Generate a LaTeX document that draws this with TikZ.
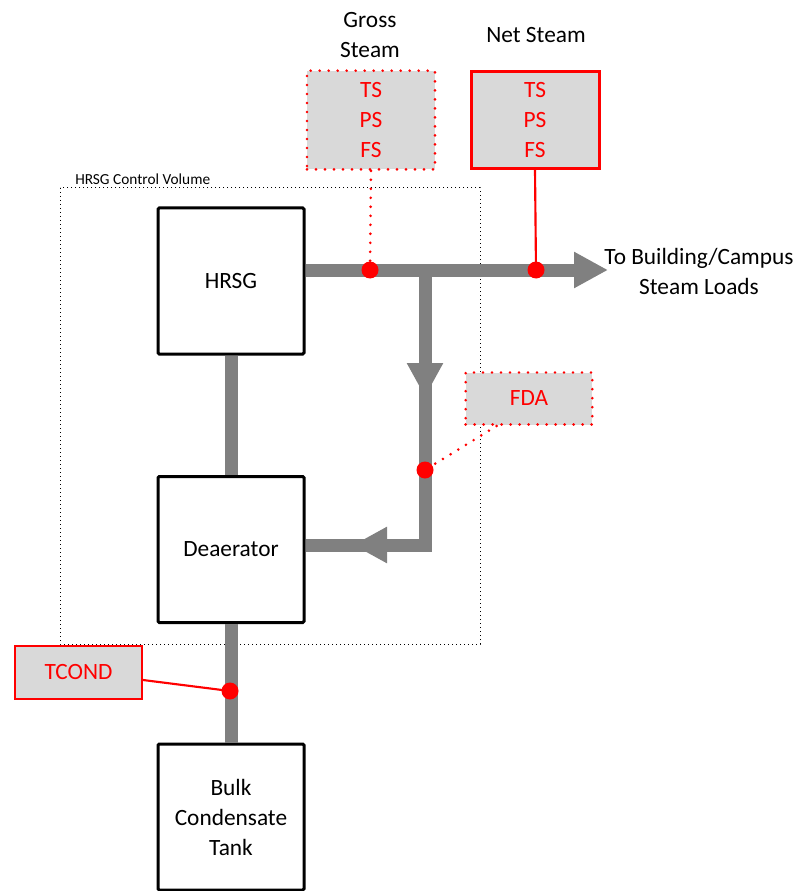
\documentclass[tikz,border=0pt]{standalone}
\usepackage{fontspec}
\setmainfont{Carlito}
\usetikzlibrary{arrows.meta,decorations.markings,calc}
\definecolor{pipegray}{RGB}{128,128,128}
\definecolor{boxfill}{RGB}{217,217,217}
\tikzset{
  block/.style={draw=black, line width=2.25pt, fill=white, minimum width=109.5pt, minimum height=109.5pt, inner sep=0pt, align=center, rounded corners=1pt},
  pipe/.style={pipegray, line width=9.75pt, line join=miter},
  head/.style={-{Triangle[length=25.5pt,width=25.5pt]}},
  sensor/.style={fill=boxfill, text=red, align=center, inner sep=0pt},
  solidsens/.style={sensor, draw=red},
  dotsens/.style={sensor, draw=red, line width=2.2pt, dash pattern=on 0pt off 6.75pt, line cap=round},
  dotline/.style={red, line width=2.2pt, dash pattern=on 0pt off 6.75pt, line cap=round},
  solidline/.style={red, line width=1.6pt},
  sdot/.style={circle, fill=red, minimum size=12.75pt, inner sep=0pt},
  cv/.style={draw=black, line width=0.75pt, dash pattern=on 0.75pt off 2.25pt},
  plain/.style={align=center, text=black}
}
\begin{document}
\begin{tikzpicture}[x=0.75pt, y=-0.75pt, font=\fontsize{17.5}{22.5}\selectfont]
\useasboundingbox (0,0) rectangle (803,891);
% control volume
\draw[cv] (60,188) rectangle (480,644);
\node[anchor=base west, font=\fontsize{11.5}{13}\selectfont, inner sep=0pt] (cvl) at (75,185) {HRSG Control Volume};

% coordinates
\coordinate (j) at (425,270);
\coordinate (out) at (608,270);
\coordinate (c1) at (425,545);
\coordinate (gd) at (370,270);
\coordinate (nd) at (536,270);
\coordinate (fd) at (425,470);
\coordinate (td) at (230,691);

% blocks
\node[block] (hrsg) at (231,281) {HRSG};
\node[block] (deaer) at (231,549.5) {Deaerator};
\node[block] (tank) at (231,817) {Bulk\\Condensate\\Tank};

% pipes
\draw[pipe, head] (hrsg.east |- j) -- (out);
\draw[pipe, postaction={decorate}, decoration={markings,
   mark=at position 95.25pt with {\arrow{Triangle[length=25.5pt,width=25.5pt]}},
   mark=at position 260.25pt with {\arrow{Triangle[length=25.5pt,width=25.5pt]}}}]
   (j) -- (c1) -- (deaer.east |- c1);
\draw[pipe] (hrsg.south) -- (deaer.north);
\draw[pipe] (deaer.south) -- (tank.north);

% labels
\node[plain] (dest) at (699,271) {To Building/Campus\\Steam Loads};
\node[plain] (gl) at (370,35) {Gross\\Steam};
\node[plain] (nl) at (536,35) {Net Steam};

% sensor boxes
\node[dotsens, minimum width=96pt, minimum height=74pt] (gross) at (371,120) {TS\\PS\\FS};
\node[solidsens, line width=2.25pt, minimum width=96pt, minimum height=73pt] (net) at (535,120) {TS\\PS\\FS};
\node[dotsens, minimum width=95pt, minimum height=39pt] (fda) at (529,398.5) {FDA};
\node[solidsens, line width=1.5pt, minimum width=95.25pt, minimum height=40pt] (tcond) at (78.5,672.5) {TCOND};

% sensor connectors
\draw[dotline] (gross.south) -- (gd);
\draw[solidline] (net.south) -- (nd);
\draw[dotline] ($(fda.south west)!0.25!(fda.south east)$) -- (fd);
\draw[solidline] ($(tcond.east)+(0,7.5)$) -- (td);

% measurement dots
\node[sdot] (gdot) at (gd) {};
\node[sdot] (ndot) at (nd) {};
\node[sdot] (fdot) at (fd) {};
\node[sdot] (tdot) at (td) {};
\end{tikzpicture}
\end{document}
